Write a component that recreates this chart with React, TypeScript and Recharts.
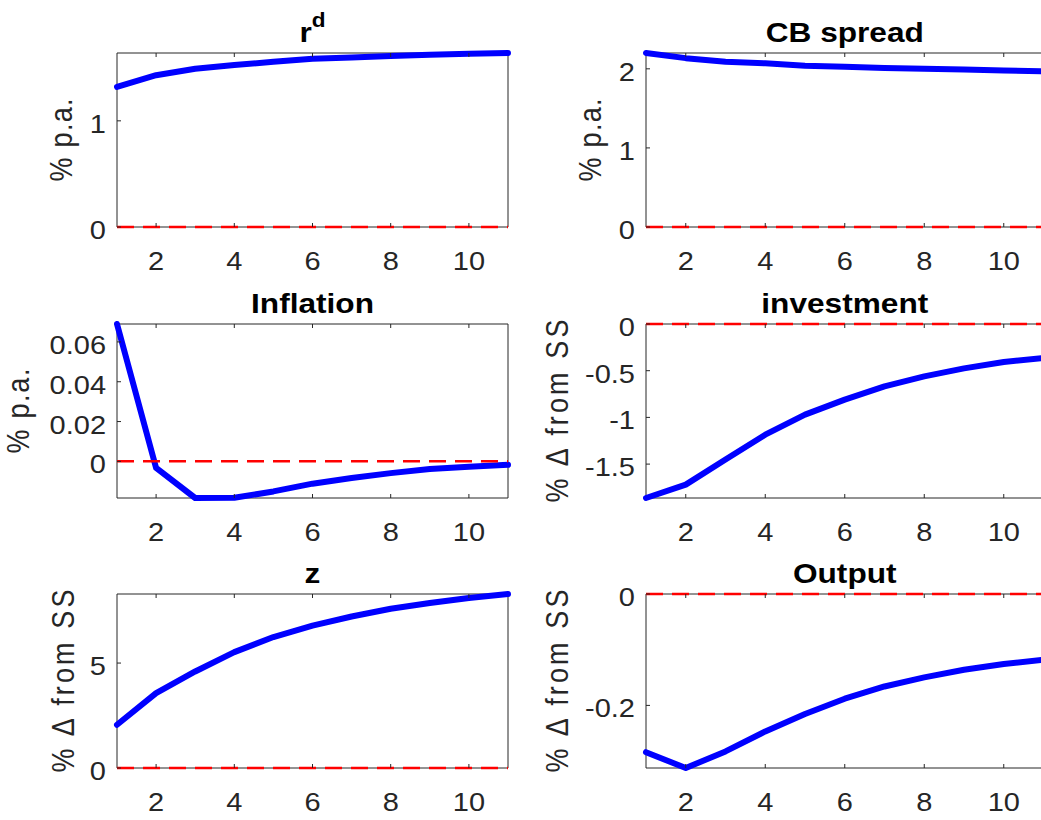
import React from 'react';
import { LineChart, Line, XAxis, YAxis } from 'recharts';

// ---- data ----
const periods = [1, 2, 3, 4, 5, 6, 7, 8, 9, 10, 11];
const xTicks = [2, 4, 6, 8, 10];
const zeroValues = [0, 0, 0, 0, 0, 0, 0, 0, 0, 0, 0];

const rdValues = [1.32, 1.43, 1.49, 1.525, 1.557, 1.585, 1.597, 1.61, 1.623, 1.632, 1.639];
const cbSpreadValues = [2.2, 2.135, 2.09, 2.07, 2.04, 2.025, 2.01, 2.0, 1.99, 1.98, 1.97];
const inflationValues = [0.069, -0.0033, -0.0184, -0.0183, -0.0151, -0.0112, -0.0084, -0.0059, -0.0038, -0.0027, -0.0017];
const investmentValues = [-1.863, -1.72, -1.45, -1.185, -0.97, -0.81, -0.668, -0.561, -0.475, -0.407, -0.364];
const zValues = [2.06, 3.57, 4.6, 5.52, 6.24, 6.78, 7.22, 7.59, 7.86, 8.1, 8.29];
const outputValues = [-0.284, -0.3124, -0.2826, -0.2467, -0.2155, -0.188, -0.166, -0.1497, -0.136, -0.1257, -0.118];

const rdTicks = [0, 1];
const cbSpreadTicks = [0, 1, 2];
const inflationTicks = [0, 0.02, 0.04, 0.06];
const investmentTicks = [-1.5, -1, -0.5, 0];
const zTicks = [0, 5];
const outputTicks = [-0.2, 0];

// ---- styles ----
const FONT = '"Liberation Sans", Arial, Helvetica, sans-serif';
const AX = '#262626';
const TICK_FS = 25;
const STRETCH = 1.16;

const BottomTick = (props: any) => {
  const { x, y, payload } = props;
  return (
    <g>
      <line x1={x} x2={x} y1={y} y2={y - 4} stroke={AX} strokeWidth={1} />
      <text
        transform={`translate(${x},${y + 42.5}) scale(${STRETCH},1)`}
        textAnchor="middle"
        fontSize={TICK_FS}
        fontFamily={FONT}
        fill={AX}
      >
        {String(payload.value)}
      </text>
    </g>
  );
};

const TopTick = (props: any) => {
  const { x, y } = props;
  return <line x1={x} x2={x} y1={y} y2={y + 4} stroke={AX} strokeWidth={1} />;
};

const LeftTick = (props: any) => {
  const { x, y, payload } = props;
  return (
    <g>
      <line x1={x} x2={x + 4} y1={y} y2={y} stroke={AX} strokeWidth={1} />
      <text
        transform={`translate(${x - 11},${y + 12}) scale(${STRETCH},1)`}
        textAnchor="end"
        fontSize={TICK_FS}
        fontFamily={FONT}
        fill={AX}
      >
        {String(payload.value)}
      </text>
    </g>
  );
};

const RightTick = (props: any) => {
  const { x, y } = props;
  return <line x1={x} x2={x - 4} y1={y} y2={y} stroke={AX} strokeWidth={1} />;
};

type PanelProps = {
  values: number[];
  ticks: number[];
  title: string;
  titleSup?: string;
  ylabel: string;
  ylabelLength: number;
  labelGap: number;
  left: number;
  top: number;
  width: number;
  height: number;
};

function Panel(p: PanelProps) {
  const data = periods.map((period, i) => ({ period, value: p.values[i], zero: zeroValues[i] }));
  const lo = Math.min(0, ...p.values);
  const hi = Math.max(0, ...p.values);
  const ML = 120;
  const MT = 50;
  const MR = 20;
  const MB = 60;

  const titleContent = (lp: any) => {
    const vb = lp.viewBox || {};
    const cx = vb.x + vb.width / 2;
    const y = vb.y + (vb.height || 0) - 11;
    return (
      <text
        transform={`translate(${cx},${y}) scale(1.13,1)`}
        textAnchor="middle"
        fontSize={28}
        fontWeight="bold"
        fontFamily={FONT}
        fill="#000"
      >
        {p.title}
        {p.titleSup ? (
          <tspan dy={-15} fontSize={20}>
            {p.titleSup}
          </tspan>
        ) : null}
      </text>
    );
  };

  const ylabelContent = (lp: any) => {
    const vb = lp.viewBox || {};
    const cy = vb.y + vb.height / 2;
    const x = vb.x + (vb.width || 0) - p.labelGap;
    return (
      <text
        transform={`translate(${x},${cy}) rotate(-90) scale(1,${STRETCH})`}
        textAnchor="middle"
        fontSize={27}
        fontFamily={FONT}
        fill={AX}
        textLength={p.ylabelLength}
        lengthAdjust="spacing"
      >
        {p.ylabel}
      </text>
    );
  };

  return (
    <div style={{ position: 'absolute', left: p.left - ML, top: p.top - MT }}>
      <LineChart
        width={p.width + ML + MR}
        height={p.height + MT + MB}
        data={data}
        margin={{ top: MT - 1, right: MR - 1, bottom: MB - 1, left: ML - 1 }}
      >
        <XAxis
          xAxisId="b"
          dataKey="period"
          type="number"
          domain={[1, 11]}
          ticks={xTicks}
          interval={0}
          orientation="bottom"
          height={1}
          tickSize={0}
          tickMargin={0}
          tickLine={false}
          axisLine={{ stroke: AX, strokeWidth: 1 }}
          tick={<BottomTick />}
        />
        <XAxis
          xAxisId="t"
          dataKey="period"
          type="number"
          domain={[1, 11]}
          ticks={xTicks}
          interval={0}
          orientation="top"
          height={1}
          tickSize={0}
          tickMargin={0}
          tickLine={false}
          axisLine={{ stroke: AX, strokeWidth: 1 }}
          tick={<TopTick />}
          label={titleContent}
        />
        <YAxis
          yAxisId="l"
          type="number"
          domain={[lo, hi]}
          ticks={p.ticks}
          interval={0}
          orientation="left"
          width={1}
          tickSize={0}
          tickMargin={0}
          tickLine={false}
          axisLine={{ stroke: AX, strokeWidth: 1 }}
          tick={<LeftTick />}
          label={ylabelContent}
        />
        <YAxis
          yAxisId="r"
          type="number"
          domain={[lo, hi]}
          ticks={p.ticks}
          interval={0}
          orientation="right"
          width={1}
          tickSize={0}
          tickMargin={0}
          tickLine={false}
          axisLine={{ stroke: AX, strokeWidth: 1 }}
          tick={<RightTick />}
        />
        <Line
          xAxisId="b"
          yAxisId="l"
          type="linear"
          dataKey="value"
          stroke="#0000ff"
          strokeWidth={6}
          strokeLinecap="round"
          strokeLinejoin="round"
          dot={false}
          activeDot={false}
          isAnimationActive={false}
          zIndex={600}
        />
        <Line
          xAxisId="b"
          yAxisId="l"
          type="linear"
          dataKey="zero"
          stroke="#ff0000"
          strokeWidth={2.5}
          strokeDasharray="17 9"
          dot={false}
          activeDot={false}
          isAnimationActive={false}
          zIndex={610}
        />
      </LineChart>
    </div>
  );
}

const LEFT_X = 117;
const RIGHT_X = 646.3;
const LEFT_W = 391;
const RIGHT_W = 397.5;
const ROW_Y = [53.3, 324.3, 594.3];
const PLOT_H = 174;

export default function App() {
  return (
    <div
      style={{
        position: 'absolute',
        left: 0,
        top: 0,
        width: 1041,
        height: 820,
        overflow: 'hidden',
        background: '#ffffff',
      }}
    >
      <Panel values={rdValues} ticks={rdTicks} title="r" titleSup="d" ylabel="% p.a." ylabelLength={83} labelGap={45}
        left={LEFT_X} top={ROW_Y[0]} width={LEFT_W} height={PLOT_H} />
      <Panel values={cbSpreadValues} ticks={cbSpreadTicks} title="CB spread" ylabel="% p.a." ylabelLength={83} labelGap={45}
        left={RIGHT_X} top={ROW_Y[0]} width={RIGHT_W} height={PLOT_H} />
      <Panel values={inflationValues} ticks={inflationTicks} title="Inflation" ylabel="% p.a." ylabelLength={85} labelGap={88}
        left={LEFT_X} top={ROW_Y[1]} width={LEFT_W} height={PLOT_H} />
      <Panel values={investmentValues} ticks={investmentTicks} title="investment" ylabel="% Δ from SS" ylabelLength={183} labelGap={78}
        left={RIGHT_X} top={ROW_Y[1]} width={RIGHT_W} height={PLOT_H} />
      <Panel values={zValues} ticks={zTicks} title="z" ylabel="% Δ from SS" ylabelLength={183} labelGap={43}
        left={LEFT_X} top={ROW_Y[2]} width={LEFT_W} height={PLOT_H} />
      <Panel values={outputValues} ticks={outputTicks} title="Output" ylabel="% Δ from SS" ylabelLength={183} labelGap={78}
        left={RIGHT_X} top={ROW_Y[2]} width={RIGHT_W} height={PLOT_H} />
    </div>
  );
}
